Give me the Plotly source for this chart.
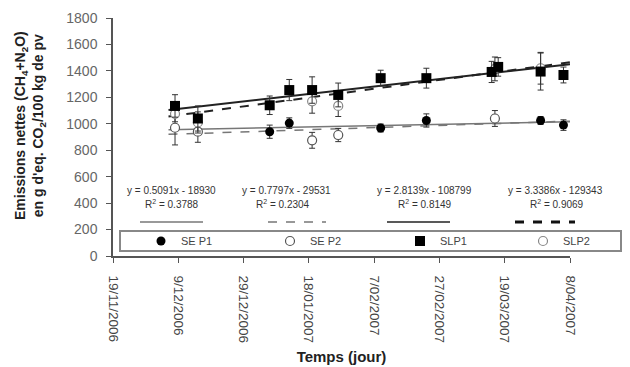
import plotly.graph_objects as go

# ---------------- data ----------------
se_p1_dates = ["2007-01-06", "2007-01-12", "2007-02-09", "2007-02-23", "2007-03-30", "2007-04-06"]
se_p1_vals = [940, 1005, 968, 1025, 1025, 990]
se_p1_err = [50, 40, 30, 50, 30, 40]

se_p2_dates = ["2006-12-08", "2006-12-15", "2007-01-19", "2007-01-27", "2007-03-16"]
se_p2_vals = [970, 940, 875, 915, 1040]
se_p2_err = [130, 80, 60, 50, 60]

slp1_dates = ["2006-12-08", "2006-12-15", "2007-01-06", "2007-01-12", "2007-01-19", "2007-01-27",
              "2007-02-09", "2007-02-23", "2007-03-15", "2007-03-17", "2007-03-30", "2007-04-06"]
slp1_vals = [1135, 1040, 1140, 1255, 1255, 1218, 1345, 1345, 1392, 1430, 1395, 1369]
slp1_err = [85, 95, 70, 80, 100, 90, 60, 75, 80, 70, 140, 60]

slp2_dates = ["2006-12-08", "2006-12-15", "2007-01-19", "2007-01-27", "2007-03-16", "2007-03-30"]
slp2_vals = [1075, 1010, 1170, 1135, 1415, 1420]
slp2_err = [60, 80, 90, 80, 90, 120]

trend_dates = ["2006-12-06", "2007-04-08"]
se_p1_trend = [955, 1015]
se_p2_trend = [920, 1020]
slp1_trend = [1105, 1450]
slp2_trend = [1055, 1465]

equations = ["y = 0.5091x - 18930", "y = 0.7797x - 29531", "y = 2.8139x - 108799", "y = 3.3386x - 129343"]
r2_texts = ["R<sup>2</sup> = 0.3788", "R<sup>2</sup> = 0.2304", "R<sup>2</sup> = 0.8149", "R<sup>2</sup> = 0.9069"]

tick_vals = ["2006-11-19", "2006-12-09", "2006-12-29", "2007-01-18", "2007-02-07",
             "2007-02-27", "2007-03-19", "2007-04-08"]
tick_text = ["19/11/2006", "9/12/2006", "29/12/2006", "18/01/2007", "7/02/2007",
             "27/02/2007", "19/03/2007", "8/04/2007"]

FONT = "Liberation Sans, Arial, sans-serif"

fig = go.Figure()

# trend lines
fig.add_trace(go.Scatter(x=trend_dates, y=se_p1_trend, mode="lines",
                         line=dict(color="#777777", width=1.5), showlegend=False, hoverinfo="skip"))
fig.add_trace(go.Scatter(x=trend_dates, y=se_p2_trend, mode="lines",
                         line=dict(color="#777777", width=1.5, dash="dash"), showlegend=False, hoverinfo="skip"))
fig.add_trace(go.Scatter(x=trend_dates, y=slp1_trend, mode="lines",
                         line=dict(color="#222222", width=2), showlegend=False, hoverinfo="skip"))
fig.add_trace(go.Scatter(x=trend_dates, y=slp2_trend, mode="lines",
                         line=dict(color="#222222", width=2, dash="dash"), showlegend=False, hoverinfo="skip"))

err_style = dict(type="data", thickness=1, width=3, color="#333333")

fig.add_trace(go.Scatter(x=se_p2_dates, y=se_p2_vals, mode="markers", name="SE P2", legend="legend2",
                         error_y=dict(array=se_p2_err, **err_style),
                         marker=dict(symbol="circle", size=9, color="white",
                                     line=dict(color="#555555", width=1.2))))
fig.add_trace(go.Scatter(x=se_p1_dates, y=se_p1_vals, mode="markers", name="SE P1", legend="legend",
                         error_y=dict(array=se_p1_err, **err_style),
                         marker=dict(symbol="circle", size=9, color="black")))
fig.add_trace(go.Scatter(x=slp2_dates, y=slp2_vals, mode="markers", name="SLP2", legend="legend4",
                         error_y=dict(array=slp2_err, **err_style),
                         marker=dict(symbol="circle", size=9, color="white",
                                     line=dict(color="#888888", width=1.2))))
fig.add_trace(go.Scatter(x=slp1_dates, y=slp1_vals, mode="markers", name="SLP1", legend="legend3",
                         error_y=dict(array=slp1_err, **err_style),
                         marker=dict(symbol="square", size=10, color="black")))

# The page body adds an 8 px offset; layout below is expressed in screen pixels.
OFF = 8
L, R, T, B = 113, 570, 18, 256          # plot area on screen
def px(x):
    return (x - L) / (R - L)
def py(y):
    return (B - y) / (B - T)

annotations = []
eq_centers = [171, 286, 424, 555]
r2_centers = [172, 283, 425, 557]
for cx, cr, eq, r2 in zip(eq_centers, r2_centers, equations, r2_texts):
    annotations.append(dict(x=px(cx), y=py(190), xref="paper", yref="paper", text=eq,
                            xanchor="center", yanchor="middle",
                            showarrow=False, font=dict(size=10, color="#333333", family=FONT)))
    annotations.append(dict(x=px(cr), y=py(204), xref="paper", yref="paper", text=r2,
                            xanchor="center", yanchor="middle",
                            showarrow=False, font=dict(size=10, color="#333333", family=FONT)))

annotations.append(dict(x=px(30), y=py(126), xref="paper", yref="paper",
                        xanchor="center", yanchor="middle",
                        text="<b>Emissions nettes (CH<sub>4</sub>+N<sub>2</sub>O)<br>en g d'eq. CO<sub>2</sub>/100 kg de pv</b>",
                        textangle=-90, showarrow=False, font=dict(size=14, color="#222222", family=FONT)))

shapes = [
    dict(type="line", xref="paper", yref="paper", x0=px(140), x1=px(203), y0=py(222), y1=py(222),
         line=dict(color="#777777", width=1.5)),
    dict(type="line", xref="paper", yref="paper", x0=px(268), x1=px(326), y0=py(222), y1=py(222),
         line=dict(color="#777777", width=1.5, dash="dash")),
    dict(type="line", xref="paper", yref="paper", x0=px(387), x1=px(450), y0=py(222), y1=py(222),
         line=dict(color="#222222", width=1.5)),
    dict(type="line", xref="paper", yref="paper", x0=px(515), x1=px(575), y0=py(222), y1=py(222),
         line=dict(color="#111111", width=3, dash="dash")),
    dict(type="rect", xref="paper", yref="paper", x0=px(120), x1=px(621), y0=py(251), y1=py(231),
         line=dict(color="#888888", width=2), fillcolor="rgba(0,0,0,0)"),
]

def legend_at(xpix):
    return dict(orientation="h", x=px(xpix), y=py(241), xanchor="left", yanchor="middle",
                bgcolor="rgba(0,0,0,0)", borderwidth=0,
                font=dict(size=11, color="#444444", family=FONT), itemwidth=30)

fig.update_layout(
    width=630, height=367,
    margin=dict(l=L - OFF, r=630 - R + OFF, t=T - OFF, b=367 - B + OFF, autoexpand=False),
    paper_bgcolor="white", plot_bgcolor="white",
    font=dict(family=FONT, color="#333333"),
    showlegend=True,
    legend=legend_at(141),
    legend2=legend_at(270),
    legend3=legend_at(400),
    legend4=legend_at(523),
    annotations=annotations,
    shapes=shapes,
    xaxis=dict(type="date", range=["2006-11-19", "2007-04-08"], tickvals=tick_vals, ticktext=tick_text,
               tickangle=90, showgrid=False, zeroline=False, showline=True, linecolor="#555555", linewidth=1.5,
               ticks="outside", ticklen=5, tickcolor="#555555", automargin=False, ticklabelstandoff=10,
               tickfont=dict(size=13.5, color="#444444", family=FONT),
               title=dict(text="<b>Temps (jour)</b>", standoff=9, font=dict(size=15, color="#222222", family=FONT))),
    yaxis=dict(range=[0, 1800], dtick=200, showgrid=False, zeroline=False, showline=True, automargin=False,
               linecolor="#555555", linewidth=1.5, ticks="outside", ticklen=5, tickcolor="#555555",
               ticklabelstandoff=6,
               tickfont=dict(size=14, color="#666666", family=FONT)),
)

fig.write_html("out.html")
